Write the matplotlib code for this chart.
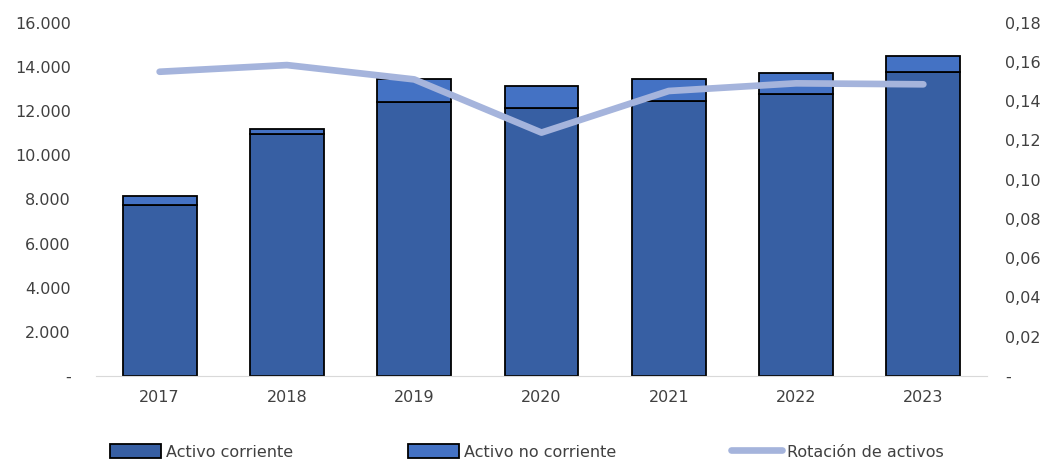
import numpy as np
import matplotlib.pyplot as plt
from matplotlib.ticker import FuncFormatter

# Datos
years = ['2017', '2018', '2019', '2020', '2021', '2022', '2023']
activo_corriente = [7730, 10950, 12430, 12120, 12460, 12760, 13780]
activo_no_corriente = [420, 245, 1000, 1030, 990, 960, 690]
rotacion = [0.155, 0.1584, 0.1511, 0.1240, 0.1452, 0.1491, 0.1486]

text_color = '#404040'
plt.rcParams['font.family'] = ['DejaVu Sans']
plt.rcParams['font.size'] = 11.5

fig = plt.figure(figsize=(10.63, 4.61), dpi=100)
ax = fig.add_axes([0.0903, 0.1844, 0.8382, 0.7664])
ax2 = ax.twinx()

x = np.arange(len(years))
ax.bar(x, activo_corriente, width=0.58, color='#375FA3', edgecolor='black',
       linewidth=1.3, label='Activo corriente', zorder=2)
ax.bar(x, activo_no_corriente, width=0.58, bottom=activo_corriente,
       color='#4472C4', edgecolor='black', linewidth=1.3,
       label='Activo no corriente', zorder=2)
ax2.plot(x, rotacion, color='#A5B4DC', linewidth=4.8, solid_capstyle='round',
         label='Rotación de activos')

ax.set_xlim(-0.5, len(years) - 0.5)
ax.set_ylim(0, 16000)
ax.set_yticks(np.arange(0, 16001, 2000))
ax2.set_ylim(0, 0.18)
ax2.set_yticks(np.arange(0, 0.181, 0.02))


def fmt_left(v, pos):
    if abs(v) < 1e-9:
        return '-'
    return f'{v:,.0f}'.replace(',', '.')


def fmt_right(v, pos):
    if abs(v) < 1e-9:
        return '-'
    return f'{v:.2f}'.replace('.', ',')


ax.yaxis.set_major_formatter(FuncFormatter(fmt_left))
ax2.yaxis.set_major_formatter(FuncFormatter(fmt_right))
ax.set_xticks(x)
ax.set_xticklabels(years)

for a in (ax, ax2):
    for s in ('top', 'left', 'right'):
        a.spines[s].set_visible(False)
    a.tick_params(length=0, colors=text_color, labelsize=11.5)
ax2.spines['bottom'].set_visible(False)
ax.spines['bottom'].set_color('#D9D9D9')
ax.tick_params(axis='x', pad=10)
ax.tick_params(axis='y', pad=18)
ax2.tick_params(axis='y', pad=13)

h1, l1 = ax.get_legend_handles_labels()
h2, l2 = ax2.get_legend_handles_labels()
fig.legend(h1 + h2, l1 + l2, loc='center left', bbox_to_anchor=(110 / 1063, 0.02),
           ncol=3, frameon=False, handlelength=3.2, handleheight=1.0,
           handletextpad=0.3, columnspacing=7.2, borderpad=0, borderaxespad=0,
           labelcolor=text_color, fontsize=11.5)

fig.savefig('out.png', dpi=100)
